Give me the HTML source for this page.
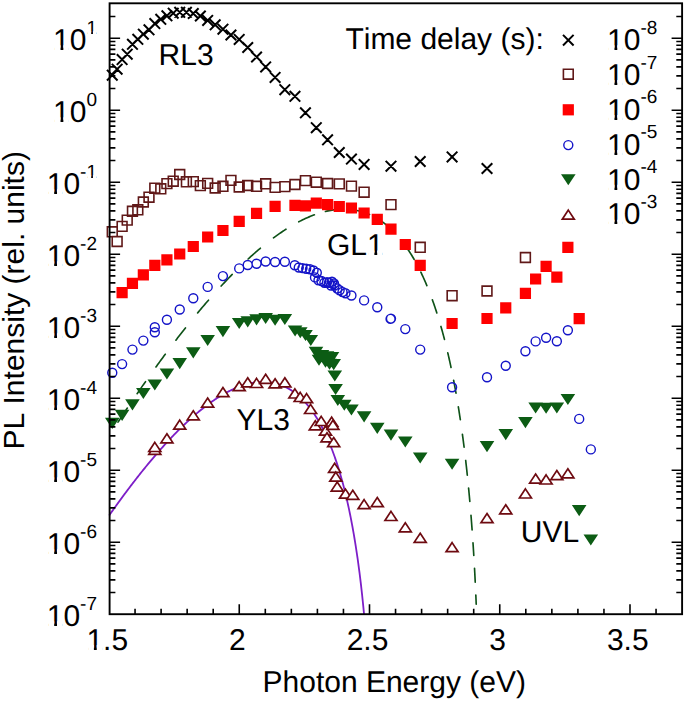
<!DOCTYPE html><html><head><meta charset="utf-8"><style>html,body{margin:0;padding:0;background:#fff;}svg{display:block;}</style></head><body>
<svg width="685" height="702" viewBox="0 0 685 702">
<rect width="685" height="702" fill="#fff"/>
<g><path d="M109.20 515.41 L109.83 514.51 L110.47 513.60 L111.11 512.70 L111.75 511.79 L112.39 510.89 L113.03 509.99 L113.67 509.09 L114.31 508.20 L114.94 507.31 L115.58 506.42 L116.22 505.53 L116.86 504.64 L117.50 503.75 L118.14 502.87 L118.78 501.99 L119.42 501.11 L120.06 500.23 L120.69 499.36 L121.33 498.49 L121.97 497.62 L122.61 496.75 L123.25 495.89 L123.89 495.02 L124.53 494.16 L125.17 493.30 L125.81 492.44 L126.44 491.59 L127.08 490.74 L127.72 489.89 L128.36 489.04 L129.00 488.19 L129.64 487.35 L130.28 486.51 L130.92 485.67 L131.55 484.84 L132.19 484.00 L132.83 483.17 L133.47 482.34 L134.11 481.51 L134.75 480.68 L135.39 479.86 L136.03 479.04 L136.66 478.22 L137.30 477.41 L137.94 476.60 L138.58 475.78 L139.22 474.98 L139.86 474.17 L140.50 473.36 L141.13 472.56 L141.77 471.76 L142.41 470.96 L143.05 470.18 L143.69 469.38 L144.33 468.59 L144.97 467.81 L145.60 467.02 L146.24 466.24 L146.88 465.46 L147.52 464.68 L148.16 463.91 L148.80 463.14 L149.44 462.37 L150.08 461.60 L150.71 460.84 L151.35 460.08 L151.99 459.32 L152.63 458.56 L153.27 457.80 L153.91 457.06 L154.55 456.31 L155.18 455.56 L155.82 454.82 L156.46 454.08 L157.10 453.34 L157.74 452.60 L158.38 451.87 L159.02 451.14 L159.65 450.42 L160.29 449.69 L160.93 448.97 L161.57 448.25 L162.21 447.54 L162.85 446.82 L163.49 446.11 L164.13 445.41 L164.76 444.71 L165.40 444.00 L166.04 443.30 L166.68 442.61 L167.32 441.91 L167.96 441.22 L168.60 440.54 L169.24 439.85 L169.88 439.17 L170.51 438.49 L171.15 437.82 L171.79 437.15 L172.43 436.48 L173.07 435.81 L173.71 435.15 L174.35 434.48 L174.99 433.83 L175.63 433.17 L176.26 432.53 L176.90 431.88 L177.54 431.23 L178.18 430.59 L178.82 429.95 L179.46 429.31 L180.10 428.68 L180.74 428.05 L181.37 427.43 L182.01 426.81 L182.65 426.19 L183.29 425.57 L183.93 424.96 L184.57 424.35 L185.21 423.74 L185.85 423.14 L186.48 422.54 L187.12 421.95 L187.76 421.35 L188.40 420.76 L189.04 420.18 L189.68 419.59 L190.32 419.02 L190.95 418.44 L191.59 417.87 L192.23 417.30 L192.87 416.74 L193.51 416.17 L194.15 415.62 L194.79 415.06 L195.42 414.51 L196.06 413.96 L196.70 413.42 L197.34 412.88 L197.98 412.35 L198.62 411.81 L199.26 411.29 L199.90 410.76 L200.53 410.24 L201.17 409.72 L201.81 409.21 L202.45 408.70 L203.09 408.19 L203.73 407.69 L204.37 407.19 L205.00 406.70 L205.64 406.21 L206.28 405.72 L206.92 405.24 L207.56 404.76 L208.20 404.29 L208.84 403.82 L209.47 403.35 L210.11 402.89 L210.75 402.43 L211.39 401.98 L212.03 401.53 L212.67 401.08 L213.31 400.64 L213.95 400.21 L214.58 399.78 L215.22 399.35 L215.86 398.92 L216.50 398.50 L217.14 398.09 L217.78 397.68 L218.42 397.27 L219.06 396.87 L219.70 396.47 L220.33 396.08 L220.97 395.69 L221.61 395.31 L222.25 394.93 L222.89 394.56 L223.53 394.19 L224.17 393.82 L224.81 393.46 L225.45 393.11 L226.08 392.76 L226.72 392.41 L227.36 392.07 L228.00 391.73 L228.64 391.40 L229.28 391.08 L229.92 390.75 L230.56 390.44 L231.19 390.13 L231.83 389.82 L232.47 389.52 L233.11 389.23 L233.75 388.94 L234.39 388.65 L235.03 388.37 L235.67 388.09 L236.30 387.83 L236.94 387.56 L237.58 387.30 L238.22 387.05 L238.86 386.80 L239.50 386.56 L240.14 386.32 L240.77 386.09 L241.41 385.87 L242.05 385.65 L242.69 385.44 L243.33 385.23 L243.97 385.03 L244.61 384.83 L245.24 384.64 L245.88 384.46 L246.52 384.28 L247.16 384.11 L247.80 383.94 L248.44 383.78 L249.08 383.63 L249.71 383.48 L250.35 383.34 L250.99 383.20 L251.63 383.07 L252.27 382.95 L252.91 382.84 L253.55 382.73 L254.19 382.63 L254.82 382.53 L255.46 382.44 L256.10 382.36 L256.74 382.28 L257.38 382.21 L258.02 382.15 L258.66 382.10 L259.29 382.05 L259.93 382.01 L260.57 381.98 L261.21 381.95 L261.85 381.93 L262.49 381.92 L263.13 381.92 L263.77 381.92 L264.40 381.93 L265.04 381.95 L265.68 381.98 L266.32 382.01 L266.96 382.05 L267.60 382.10 L268.24 382.16 L268.88 382.23 L269.52 382.30 L270.15 382.38 L270.79 382.47 L271.43 382.57 L272.07 382.68 L272.71 382.80 L273.35 382.92 L273.99 383.06 L274.63 383.20 L275.27 383.35 L275.90 383.51 L276.54 383.68 L277.18 383.86 L277.82 384.04 L278.46 384.24 L279.10 384.45 L279.74 384.66 L280.38 384.89 L281.01 385.12 L281.65 385.37 L282.29 385.62 L282.93 385.88 L283.57 386.16 L284.21 386.44 L284.85 386.74 L285.49 387.05 L286.12 387.36 L286.76 387.69 L287.40 388.03 L288.04 388.38 L288.68 388.74 L289.32 389.11 L289.96 389.49 L290.59 389.88 L291.23 390.29 L291.87 390.71 L292.51 391.13 L293.15 391.58 L293.79 392.03 L294.43 392.50 L295.06 392.97 L295.70 393.47 L296.34 393.97 L296.98 394.49 L297.62 395.01 L298.26 395.56 L298.90 396.11 L299.53 396.68 L300.17 397.27 L300.81 397.87 L301.45 398.48 L302.09 399.10 L302.73 399.75 L303.37 400.40 L304.01 401.07 L304.64 401.76 L305.28 402.46 L305.92 403.18 L306.56 403.91 L307.20 404.66 L307.84 405.42 L308.48 406.21 L309.11 407.00 L309.75 407.82 L310.39 408.65 L311.03 409.50 L311.67 410.37 L312.31 411.26 L312.95 412.16 L313.59 413.09 L314.22 414.03 L314.86 414.99 L315.50 415.97 L316.14 416.98 L316.78 418.00 L317.42 419.05 L318.06 420.11 L318.70 421.20 L319.34 422.31 L319.97 423.43 L320.61 424.59 L321.25 425.76 L321.89 426.96 L322.53 428.19 L323.17 429.44 L323.81 430.71 L324.45 432.01 L325.09 433.34 L325.72 434.68 L326.36 436.06 L327.00 437.47 L327.64 438.91 L328.28 440.37 L328.92 441.87 L329.56 443.39 L330.20 444.95 L330.83 446.52 L331.47 448.14 L332.11 449.79 L332.75 451.48 L333.39 453.20 L334.03 454.96 L334.67 456.75 L335.31 458.58 L335.94 460.45 L336.58 462.35 L337.22 464.30 L337.86 466.29 L338.50 468.32 L339.14 470.40 L339.78 472.52 L340.41 474.69 L341.05 476.91 L341.69 479.18 L342.33 481.48 L342.97 483.85 L343.61 486.28 L344.25 488.76 L344.88 491.31 L345.52 493.91 L346.16 496.57 L346.80 499.30 L347.44 502.08 L348.08 504.95 L348.72 507.89 L349.35 510.91 L349.99 514.01 L350.63 517.19 L351.27 520.46 L351.91 523.82 L352.55 527.27 L353.19 530.80 L353.82 534.46 L354.46 538.23 L355.10 542.12 L355.74 546.13 L356.38 550.27 L357.02 554.55 L357.66 558.98 L358.30 563.57 L358.93 568.30 L359.57 573.24 L360.21 578.38 L360.85 583.73 L361.49 589.31 L362.13 595.15 L362.77 601.27 L363.41 607.70 L364.05 614.47" stroke="#7d1ec8" stroke-width="1.8" fill="none"/><path d="M117.99 422.15 L118.77 420.98 L119.55 419.80 L120.32 418.62 L121.10 417.45 L121.87 416.28 L122.65 415.11 L123.43 413.94 L124.20 412.78 L124.98 411.62 L125.75 410.46 L126.53 409.30 L127.30 408.14 L127.34 408.10M137.12 393.69 L137.82 392.68 L138.51 391.67 L139.21 390.67 L139.90 389.66 L140.60 388.65 L141.30 387.65 L141.99 386.65 L142.69 385.65 L143.38 384.66 L144.08 383.66 L144.78 382.67 L145.47 381.68 L145.50 381.63M155.95 366.96 L156.73 365.89 L157.50 364.82 L158.28 363.75 L159.06 362.69 L159.83 361.62 L160.61 360.56 L161.38 359.50 L162.16 358.45 L162.94 357.39 L163.71 356.34 L164.49 355.30 L165.26 354.25 L165.28 354.23M175.90 340.17 L176.69 339.13 L177.49 338.10 L178.28 337.08 L179.08 336.05 L179.87 335.03 L180.67 334.01 L181.46 333.00 L182.25 331.98 L183.05 330.97 L183.84 329.97 L184.64 328.96 L185.43 327.96M197.61 312.97 L198.51 311.88 L199.42 310.80 L200.32 309.72 L201.23 308.65 L202.13 307.58 L203.04 306.51 L203.94 305.45 L204.85 304.39 L205.75 303.33 L206.66 302.28 L207.56 301.24 L208.47 300.20 L208.48 300.18M221.17 286.03 L222.09 285.04 L223.01 284.05 L223.93 283.07 L224.84 282.10 L225.76 281.13 L226.68 280.16 L227.60 279.20 L228.51 278.24 L229.43 277.29 L230.35 276.34 L231.27 275.40 L232.18 274.46 L232.20 274.45M248.14 258.99 L249.16 258.06 L250.17 257.13 L251.19 256.21 L252.20 255.30 L253.22 254.40 L254.24 253.50 L255.25 252.61 L256.27 251.73 L257.29 250.85 L258.30 249.98 L259.32 249.12 L260.33 248.27 L260.38 248.23M273.49 237.88 L274.53 237.11 L275.57 236.36 L276.61 235.61 L277.65 234.87 L278.69 234.13 L279.73 233.41 L280.77 232.70 L281.81 231.99 L282.85 231.29 L283.89 230.61 L284.94 229.93 L285.98 229.26 L285.99 229.25M298.78 221.80 L300.08 221.12 L301.38 220.47 L302.68 219.83 L303.98 219.20 L305.28 218.59 L306.57 218.00 L307.87 217.43 L309.17 216.87 L310.47 216.33 L311.77 215.81 L313.07 215.31 L314.36 214.82M325.46 211.44 L326.78 211.13 L328.10 210.84 L329.42 210.58 L330.73 210.33 L332.05 210.11 L333.37 209.92 L334.69 209.74 L336.00 209.59 L337.32 209.46 L338.64 209.35 L339.96 209.27 L341.27 209.21M354.23 209.99 L355.51 210.21 L356.78 210.46 L358.06 210.74 L359.33 211.04 L360.61 211.37 L361.88 211.73 L363.16 212.11 L364.43 212.53 L365.71 212.98 L366.98 213.46 L368.25 213.97 L369.53 214.51M380.87 220.84 L381.83 221.50 L382.79 222.19 L383.75 222.91 L384.72 223.64 L385.68 224.40 L386.64 225.18 L387.60 225.98 L388.56 226.81 L389.52 227.67 L390.48 228.55 L391.44 229.45 L392.40 230.38 L392.41 230.39M405.33 245.63 L406.07 246.67 L406.80 247.73 L407.54 248.81 L408.28 249.92 L409.02 251.04 L409.76 252.18 L410.50 253.35 L411.24 254.54 L411.98 255.75 L412.72 256.98 L413.46 258.24 L414.19 259.52 L414.20 259.53M420.86 272.20 L421.36 273.23 L421.86 274.28 L422.35 275.35 L422.85 276.42 L423.35 277.51 L423.85 278.62 L424.35 279.74 L424.85 280.87 L425.35 282.02 L425.85 283.18 L426.34 284.35 L426.84 285.54 L426.86 285.59M432.40 299.88 L432.77 300.91 L433.14 301.95 L433.51 302.99 L433.88 304.05 L434.25 305.12 L434.62 306.20 L434.98 307.29 L435.35 308.39 L435.72 309.50 L436.09 310.63 L436.46 311.76 L436.83 312.91M440.93 326.43 L441.22 327.44 L441.51 328.46 L441.80 329.49 L442.09 330.53 L442.38 331.58 L442.67 332.64 L442.96 333.70 L443.25 334.78 L443.54 335.86 L443.83 336.95 L444.12 338.05 L444.41 339.16 L444.45 339.33M447.78 352.85 L448.05 354.01 L448.32 355.18 L448.59 356.36 L448.87 357.55 L449.14 358.75 L449.41 359.96 L449.68 361.18 L449.95 362.42 L450.22 363.66 L450.49 364.92 L450.76 366.18 L451.03 367.46M453.62 380.25 L453.82 381.28 L454.01 382.31 L454.21 383.34 L454.41 384.39 L454.60 385.44 L454.80 386.50 L455.00 387.56 L455.20 388.64 L455.39 389.72 L455.59 390.81 L455.79 391.91 L455.98 393.01 L456.01 393.19M458.33 406.84 L458.50 407.86 L458.66 408.90 L458.83 409.94 L459.00 410.99 L459.16 412.05 L459.33 413.11 L459.49 414.19 L459.66 415.27 L459.83 416.35 L459.99 417.45 L460.16 418.55 L460.33 419.66 L460.34 419.74M462.40 434.23 L462.54 435.27 L462.68 436.32 L462.83 437.38 L462.97 438.45 L463.11 439.52 L463.25 440.61 L463.39 441.69 L463.53 442.79 L463.68 443.90 L463.82 445.01 L463.96 446.13 L464.10 447.26M465.68 460.45 L465.82 461.64 L465.95 462.83 L466.09 464.03 L466.22 465.24 L466.36 466.46 L466.50 467.69 L466.63 468.93 L466.77 470.18 L466.90 471.44 L467.04 472.71 L467.17 473.99 L467.31 475.28M468.59 488.06 L468.69 489.09 L468.79 490.12 L468.89 491.16 L468.98 492.21 L469.08 493.27 L469.18 494.33 L469.28 495.41 L469.38 496.49 L469.48 497.57 L469.57 498.67 L469.67 499.77 L469.77 500.88 L469.82 501.37M470.99 515.37 L471.08 516.53 L471.18 517.70 L471.27 518.87 L471.36 520.06 L471.45 521.26 L471.55 522.46 L471.64 523.68 L471.73 524.90 L471.82 526.14 L471.92 527.39 L472.01 528.65 L472.10 529.92M472.99 542.74 L473.05 543.77 L473.12 544.80 L473.19 545.85 L473.26 546.90 L473.33 547.96 L473.39 549.03 L473.46 550.11 L473.53 551.20 L473.60 552.30 L473.66 553.40 L473.73 554.52 L473.79 555.54M474.53 568.35 L474.58 569.38 L474.64 570.41 L474.69 571.45 L474.75 572.50 L474.80 573.56 L474.86 574.63 L474.91 575.70 L474.97 576.79 L475.02 577.89 L475.08 578.99 L475.14 580.11 L475.19 581.23 L475.23 582.12M475.83 595.11 L475.86 595.82 L475.89 596.53 L475.92 597.25 L475.95 597.98 L475.99 598.71 L476.02 599.44 L476.05 600.18 L476.08 600.93 L476.11 601.68 L476.14 602.43 L476.17 603.19 L476.20 603.96 L476.21 604.11" stroke="#0e5218" stroke-width="1.65" stroke-linecap="round" fill="none"/><path d="M116.51 287.10h11.2v11.2h-11.2zM126.85 277.80h11.2v11.2h-11.2zM137.74 269.30h11.2v11.2h-11.2zM149.21 259.70h11.2v11.2h-11.2zM161.32 254.30h11.2v11.2h-11.2zM174.13 248.40h11.2v11.2h-11.2zM187.68 240.90h11.2v11.2h-11.2zM202.06 231.40h11.2v11.2h-11.2zM217.34 224.90h11.2v11.2h-11.2zM233.60 215.70h11.2v11.2h-11.2zM250.95 207.80h11.2v11.2h-11.2zM269.49 200.80h11.2v11.2h-11.2zM289.36 199.80h11.2v11.2h-11.2zM299.83 200.20h11.2v11.2h-11.2zM310.70 197.50h11.2v11.2h-11.2zM321.97 199.10h11.2v11.2h-11.2zM333.68 200.90h11.2v11.2h-11.2zM345.84 202.40h11.2v11.2h-11.2zM358.50 207.40h11.2v11.2h-11.2zM371.67 213.70h11.2v11.2h-11.2zM385.38 223.50h11.2v11.2h-11.2zM399.69 238.90h11.2v11.2h-11.2zM414.61 259.70h11.2v11.2h-11.2zM446.49 317.90h11.2v11.2h-11.2zM481.41 312.90h11.2v11.2h-11.2zM500.15 302.20h11.2v11.2h-11.2zM519.82 287.70h11.2v11.2h-11.2zM530.03 273.40h11.2v11.2h-11.2zM540.50 260.70h11.2v11.2h-11.2zM551.25 271.60h11.2v11.2h-11.2zM562.27 241.70h11.2v11.2h-11.2zM573.59 313.10h11.2v11.2h-11.2z" fill="#ff0000"/><path d="M107.37 226.90h9.8v9.8h-9.8zM112.23 236.60h9.8v9.8h-9.8zM117.21 221.50h9.8v9.8h-9.8zM122.32 215.20h9.8v9.8h-9.8zM127.55 206.40h9.8v9.8h-9.8zM132.92 204.90h9.8v9.8h-9.8zM138.44 197.10h9.8v9.8h-9.8zM144.10 192.30h9.8v9.8h-9.8zM149.91 183.30h9.8v9.8h-9.8zM155.88 183.90h9.8v9.8h-9.8zM162.02 178.70h9.8v9.8h-9.8zM168.33 176.30h9.8v9.8h-9.8zM174.83 169.60h9.8v9.8h-9.8zM181.51 176.90h9.8v9.8h-9.8zM188.38 176.70h9.8v9.8h-9.8zM195.46 180.70h9.8v9.8h-9.8zM202.76 178.50h9.8v9.8h-9.8zM210.28 183.10h9.8v9.8h-9.8zM218.04 181.40h9.8v9.8h-9.8zM226.04 175.50h9.8v9.8h-9.8zM234.30 182.10h9.8v9.8h-9.8zM242.83 180.60h9.8v9.8h-9.8zM251.65 181.40h9.8v9.8h-9.8zM260.76 178.90h9.8v9.8h-9.8zM270.19 182.50h9.8v9.8h-9.8zM279.95 181.70h9.8v9.8h-9.8zM290.06 179.60h9.8v9.8h-9.8zM300.53 175.70h9.8v9.8h-9.8zM311.40 177.30h9.8v9.8h-9.8zM322.67 178.60h9.8v9.8h-9.8zM334.38 179.00h9.8v9.8h-9.8zM346.54 181.20h9.8v9.8h-9.8zM359.20 187.30h9.8v9.8h-9.8zM386.08 199.70h9.8v9.8h-9.8zM415.31 242.40h9.8v9.8h-9.8zM447.19 290.80h9.8v9.8h-9.8zM482.11 286.10h9.8v9.8h-9.8zM520.52 252.60h9.8v9.8h-9.8z" stroke="#601818" stroke-width="1.6" fill="none"/><path d="M107.77 372.70a4.5 4.5 0 1 0 9.0 0a4.5 4.5 0 1 0 -9.0 0zM117.61 364.10a4.5 4.5 0 1 0 9.0 0a4.5 4.5 0 1 0 -9.0 0zM127.95 349.60a4.5 4.5 0 1 0 9.0 0a4.5 4.5 0 1 0 -9.0 0zM138.84 340.60a4.5 4.5 0 1 0 9.0 0a4.5 4.5 0 1 0 -9.0 0zM150.31 327.20a4.5 4.5 0 1 0 9.0 0a4.5 4.5 0 1 0 -9.0 0zM150.31 332.30a4.5 4.5 0 1 0 9.0 0a4.5 4.5 0 1 0 -9.0 0zM162.42 319.70a4.5 4.5 0 1 0 9.0 0a4.5 4.5 0 1 0 -9.0 0zM175.23 309.50a4.5 4.5 0 1 0 9.0 0a4.5 4.5 0 1 0 -9.0 0zM188.78 298.30a4.5 4.5 0 1 0 9.0 0a4.5 4.5 0 1 0 -9.0 0zM203.16 286.90a4.5 4.5 0 1 0 9.0 0a4.5 4.5 0 1 0 -9.0 0zM218.44 276.10a4.5 4.5 0 1 0 9.0 0a4.5 4.5 0 1 0 -9.0 0zM234.70 268.40a4.5 4.5 0 1 0 9.0 0a4.5 4.5 0 1 0 -9.0 0zM243.23 265.00a4.5 4.5 0 1 0 9.0 0a4.5 4.5 0 1 0 -9.0 0zM252.05 263.70a4.5 4.5 0 1 0 9.0 0a4.5 4.5 0 1 0 -9.0 0zM261.16 261.50a4.5 4.5 0 1 0 9.0 0a4.5 4.5 0 1 0 -9.0 0zM270.59 262.00a4.5 4.5 0 1 0 9.0 0a4.5 4.5 0 1 0 -9.0 0zM280.35 261.80a4.5 4.5 0 1 0 9.0 0a4.5 4.5 0 1 0 -9.0 0zM290.30 265.30a4.5 4.5 0 1 0 9.0 0a4.5 4.5 0 1 0 -9.0 0zM294.30 267.50a4.5 4.5 0 1 0 9.0 0a4.5 4.5 0 1 0 -9.0 0zM298.00 268.10a4.5 4.5 0 1 0 9.0 0a4.5 4.5 0 1 0 -9.0 0zM301.70 268.70a4.5 4.5 0 1 0 9.0 0a4.5 4.5 0 1 0 -9.0 0zM305.50 269.30a4.5 4.5 0 1 0 9.0 0a4.5 4.5 0 1 0 -9.0 0zM309.00 270.50a4.5 4.5 0 1 0 9.0 0a4.5 4.5 0 1 0 -9.0 0zM312.30 272.80a4.5 4.5 0 1 0 9.0 0a4.5 4.5 0 1 0 -9.0 0zM310.50 277.40a4.5 4.5 0 1 0 9.0 0a4.5 4.5 0 1 0 -9.0 0zM314.00 280.30a4.5 4.5 0 1 0 9.0 0a4.5 4.5 0 1 0 -9.0 0zM317.00 281.00a4.5 4.5 0 1 0 9.0 0a4.5 4.5 0 1 0 -9.0 0zM319.90 282.70a4.5 4.5 0 1 0 9.0 0a4.5 4.5 0 1 0 -9.0 0zM322.50 282.30a4.5 4.5 0 1 0 9.0 0a4.5 4.5 0 1 0 -9.0 0zM324.50 282.70a4.5 4.5 0 1 0 9.0 0a4.5 4.5 0 1 0 -9.0 0zM327.50 281.80a4.5 4.5 0 1 0 9.0 0a4.5 4.5 0 1 0 -9.0 0zM326.50 285.50a4.5 4.5 0 1 0 9.0 0a4.5 4.5 0 1 0 -9.0 0zM329.50 283.50a4.5 4.5 0 1 0 9.0 0a4.5 4.5 0 1 0 -9.0 0zM330.00 285.50a4.5 4.5 0 1 0 9.0 0a4.5 4.5 0 1 0 -9.0 0zM332.70 288.50a4.5 4.5 0 1 0 9.0 0a4.5 4.5 0 1 0 -9.0 0zM335.10 290.30a4.5 4.5 0 1 0 9.0 0a4.5 4.5 0 1 0 -9.0 0zM338.00 292.00a4.5 4.5 0 1 0 9.0 0a4.5 4.5 0 1 0 -9.0 0zM340.90 293.20a4.5 4.5 0 1 0 9.0 0a4.5 4.5 0 1 0 -9.0 0zM346.94 295.50a4.5 4.5 0 1 0 9.0 0a4.5 4.5 0 1 0 -9.0 0zM359.60 300.40a4.5 4.5 0 1 0 9.0 0a4.5 4.5 0 1 0 -9.0 0zM372.77 307.20a4.5 4.5 0 1 0 9.0 0a4.5 4.5 0 1 0 -9.0 0zM386.48 318.60a4.5 4.5 0 1 0 9.0 0a4.5 4.5 0 1 0 -9.0 0zM386.06 318.90a4.5 4.5 0 1 0 9.0 0a4.5 4.5 0 1 0 -9.0 0zM400.79 329.10a4.5 4.5 0 1 0 9.0 0a4.5 4.5 0 1 0 -9.0 0zM415.71 349.60a4.5 4.5 0 1 0 9.0 0a4.5 4.5 0 1 0 -9.0 0zM447.59 387.20a4.5 4.5 0 1 0 9.0 0a4.5 4.5 0 1 0 -9.0 0zM482.51 377.30a4.5 4.5 0 1 0 9.0 0a4.5 4.5 0 1 0 -9.0 0zM501.25 365.70a4.5 4.5 0 1 0 9.0 0a4.5 4.5 0 1 0 -9.0 0zM520.92 351.30a4.5 4.5 0 1 0 9.0 0a4.5 4.5 0 1 0 -9.0 0zM531.13 341.40a4.5 4.5 0 1 0 9.0 0a4.5 4.5 0 1 0 -9.0 0zM541.60 337.70a4.5 4.5 0 1 0 9.0 0a4.5 4.5 0 1 0 -9.0 0zM552.35 341.20a4.5 4.5 0 1 0 9.0 0a4.5 4.5 0 1 0 -9.0 0zM563.37 330.20a4.5 4.5 0 1 0 9.0 0a4.5 4.5 0 1 0 -9.0 0zM574.69 418.90a4.5 4.5 0 1 0 9.0 0a4.5 4.5 0 1 0 -9.0 0zM586.32 449.40a4.5 4.5 0 1 0 9.0 0a4.5 4.5 0 1 0 -9.0 0z" stroke="#1414c8" stroke-width="1.4" fill="none"/><path d="M104.97 417.80L119.57 417.80L112.27 428.90zM114.81 409.80L129.41 409.80L122.11 420.90zM125.15 399.30L139.75 399.30L132.45 410.40zM136.04 388.00L150.64 388.00L143.34 399.10zM147.51 379.50L162.11 379.50L154.81 390.60zM159.62 368.50L174.22 368.50L166.92 379.60zM172.43 358.10L187.03 358.10L179.73 369.20zM185.98 347.30L200.58 347.30L193.28 358.40zM200.36 335.00L214.96 335.00L207.66 346.10zM215.64 326.10L230.24 326.10L222.94 337.20zM231.90 317.90L246.50 317.90L239.20 329.00zM240.43 316.30L255.03 316.30L247.73 327.40zM249.25 314.30L263.85 314.30L256.55 325.40zM258.36 312.90L272.96 312.90L265.66 324.00zM267.79 314.70L282.39 314.70L275.09 325.80zM277.55 313.90L292.15 313.90L284.85 325.00zM287.80 325.40L302.40 325.40L295.10 336.50zM293.00 327.20L307.60 327.20L300.30 338.30zM298.20 330.00L312.80 330.00L305.50 341.10zM303.50 334.90L318.10 334.90L310.80 346.00zM308.70 346.80L323.30 346.80L316.00 357.90zM311.70 354.70L326.30 354.70L319.00 365.80zM314.70 350.00L329.30 350.00L322.00 361.10zM318.20 356.70L332.80 356.70L325.50 367.80zM319.70 351.20L334.30 351.20L327.00 362.30zM322.20 358.70L336.80 358.70L329.50 369.80zM324.70 352.10L339.30 352.10L332.00 363.20zM326.40 359.10L341.00 359.10L333.70 370.20zM327.50 370.50L342.10 370.50L334.80 381.60zM328.30 384.00L342.90 384.00L335.60 395.10zM330.50 394.90L345.10 394.90L337.80 406.00zM337.00 399.70L351.60 399.70L344.30 410.80zM344.14 404.50L358.74 404.50L351.44 415.60zM356.80 411.30L371.40 411.30L364.10 422.40zM369.97 422.80L384.57 422.80L377.27 433.90zM383.68 429.60L398.28 429.60L390.98 440.70zM397.99 436.40L412.59 436.40L405.29 447.50zM412.91 452.50L427.51 452.50L420.21 463.60zM444.79 458.70L459.39 458.70L452.09 469.80zM479.71 441.10L494.31 441.10L487.01 452.20zM498.45 429.10L513.05 429.10L505.75 440.20zM518.12 417.10L532.72 417.10L525.42 428.20zM528.33 402.50L542.93 402.50L535.63 413.60zM538.80 402.70L553.40 402.70L546.10 413.80zM549.55 402.50L564.15 402.50L556.85 413.60zM560.57 393.90L575.17 393.90L567.87 405.00zM571.89 505.10L586.49 505.10L579.19 516.20zM583.52 534.40L598.12 534.40L590.82 545.50z" fill="#0c5c14"/><g fill="#fff" stroke="#6e0a10" stroke-width="1.7"><path d="M154.81 445.30L160.81 454.40L148.81 454.40z"/><path d="M154.81 442.40L160.81 451.50L148.81 451.50z"/><path d="M166.92 433.80L172.92 442.90L160.92 442.90z"/><path d="M179.73 420.10L185.73 429.20L173.73 429.20z"/><path d="M193.28 410.70L199.28 419.80L187.28 419.80z"/><path d="M207.66 398.00L213.66 407.10L201.66 407.10z"/><path d="M222.94 387.50L228.94 396.60L216.94 396.60z"/><path d="M239.20 381.60L245.20 390.70L233.20 390.70z"/><path d="M247.73 377.70L253.73 386.80L241.73 386.80z"/><path d="M256.55 378.40L262.55 387.50L250.55 387.50z"/><path d="M265.66 374.20L271.66 383.30L259.66 383.30z"/><path d="M275.09 378.80L281.09 387.90L269.09 387.90z"/><path d="M284.85 377.70L290.85 386.80L278.85 386.80z"/><path d="M294.90 388.90L300.90 398.00L288.90 398.00z"/><path d="M300.20 392.40L306.20 401.50L294.20 401.50z"/><path d="M306.60 393.60L312.60 402.70L300.60 402.70z"/><path d="M310.60 404.40L316.60 413.50L304.60 413.50z"/><path d="M315.30 420.80L321.30 429.90L309.30 429.90z"/><path d="M321.20 416.40L327.20 425.50L315.20 425.50z"/><path d="M325.50 426.10L331.50 435.20L319.50 435.20z"/><path d="M331.70 417.10L337.70 426.20L325.70 426.20z"/><path d="M332.90 420.30L338.90 429.40L326.90 429.40z"/><path d="M327.00 432.80L333.00 441.90L321.00 441.90z"/><path d="M333.70 437.50L339.70 446.60L327.70 446.60z"/><path d="M334.60 463.30L340.60 472.40L328.60 472.40z"/><path d="M335.80 472.10L341.80 481.20L329.80 481.20z"/><path d="M337.20 482.00L343.20 491.10L331.20 491.10z"/><path d="M345.50 489.10L351.50 498.20L339.50 498.20z"/><path d="M352.80 490.20L358.80 499.30L346.80 499.30z"/><path d="M364.10 499.60L370.10 508.70L358.10 508.70z"/><path d="M377.27 497.50L383.27 506.60L371.27 506.60z"/><path d="M390.98 511.40L396.98 520.50L384.98 520.50z"/><path d="M405.29 522.80L411.29 531.90L399.29 531.90z"/><path d="M420.21 533.30L426.21 542.40L414.21 542.40z"/><path d="M452.09 542.60L458.09 551.70L446.09 551.70z"/><path d="M487.01 513.50L493.01 522.60L481.01 522.60z"/><path d="M505.75 504.70L511.75 513.80L499.75 513.80z"/><path d="M525.42 488.90L531.42 498.00L519.42 498.00z"/><path d="M535.63 474.00L541.63 483.10L529.63 483.10z"/><path d="M546.10 474.90L552.10 484.00L540.10 484.00z"/><path d="M556.85 470.50L562.85 479.60L550.85 479.60z"/><path d="M567.87 468.80L573.87 477.90L561.87 477.90z"/></g><path d="M106.97 69.90L117.57 80.50M106.97 80.50L117.57 69.90M111.83 63.90L122.43 74.50M111.83 74.50L122.43 63.90M116.81 54.30L127.41 64.90M116.81 64.90L127.41 54.30M121.92 48.90L132.52 59.50M121.92 59.50L132.52 48.90M127.15 39.00L137.75 49.60M127.15 49.60L137.75 39.00M132.52 34.00L143.12 44.60M132.52 44.60L143.12 34.00M138.04 28.90L148.64 39.50M138.04 39.50L148.64 28.90M143.70 24.50L154.30 35.10M143.70 35.10L154.30 24.50M149.51 18.30L160.11 28.90M149.51 28.90L160.11 18.30M155.48 14.00L166.08 24.60M155.48 24.60L166.08 14.00M161.62 10.50L172.22 21.10M161.62 21.10L172.22 10.50M167.93 7.90L178.53 18.50M167.93 18.50L178.53 7.90M174.43 7.00L185.03 17.60M174.43 17.60L185.03 7.00M181.11 7.00L191.71 17.60M181.11 17.60L191.71 7.00M187.98 8.20L198.58 18.80M187.98 18.80L198.58 8.20M195.06 10.70L205.66 21.30M195.06 21.30L205.66 10.70M202.36 15.10L212.96 25.70M202.36 25.70L212.96 15.10M209.88 19.50L220.48 30.10M209.88 30.10L220.48 19.50M217.64 23.90L228.24 34.50M217.64 34.50L228.24 23.90M225.64 29.70L236.24 40.30M225.64 40.30L236.24 29.70M233.90 34.10L244.50 44.70M233.90 44.70L244.50 34.10M242.43 42.20L253.03 52.80M242.43 52.80L253.03 42.20M251.25 51.70L261.85 62.30M251.25 62.30L261.85 51.70M260.36 61.60L270.96 72.20M260.36 72.20L270.96 61.60M269.79 72.10L280.39 82.70M269.79 82.70L280.39 72.10M279.55 84.40L290.15 95.00M279.55 95.00L290.15 84.40M289.66 91.00L300.26 101.60M289.66 101.60L300.26 91.00M300.13 107.50L310.73 118.10M300.13 118.10L310.73 107.50M311.00 122.40L321.60 133.00M311.00 133.00L321.60 122.40M322.27 134.50L332.87 145.10M322.27 145.10L332.87 134.50M333.98 147.20L344.58 157.80M333.98 157.80L344.58 147.20M346.14 153.80L356.74 164.40M346.14 164.40L356.74 153.80M358.80 159.10L369.40 169.70M358.80 169.70L369.40 159.10M385.68 160.90L396.28 171.50M385.68 171.50L396.28 160.90M414.91 156.20L425.51 166.80M414.91 166.80L425.51 156.20M446.79 151.60L457.39 162.20M446.79 162.20L457.39 151.60M481.71 163.20L492.31 173.80M481.71 173.80L492.31 163.20" stroke="#000" stroke-width="2.0" fill="none"/><path d="M563.00 34.90L573.60 45.50M563.00 45.50L573.60 34.90" stroke="#000" stroke-width="2.0" fill="none"/><path d="M563.40 69.30h9.8v9.8h-9.8z" stroke="#601818" stroke-width="1.6" fill="none"/><path d="M562.70 104.20h11.2v11.2h-11.2z" fill="#ff0000"/><path d="M563.80 145.10a4.5 4.5 0 1 0 9.0 0a4.5 4.5 0 1 0 -9.0 0z" stroke="#1414c8" stroke-width="1.4" fill="none"/><path d="M561.00 174.20L575.60 174.20L568.30 185.30z" fill="#0c5c14"/><path d="M568.30 210.10L574.30 219.20L562.30 219.20z" stroke="#6e0a10" stroke-width="1.7" fill="none"/></g>
<path d="M109.60 592.53h5.8M682.10 592.53h-5.8M109.60 579.85h5.8M682.10 579.85h-5.8M109.60 570.85h5.8M682.10 570.85h-5.8M109.60 563.87h5.8M682.10 563.87h-5.8M109.60 558.17h5.8M682.10 558.17h-5.8M109.60 553.35h5.8M682.10 553.35h-5.8M109.60 549.18h5.8M682.10 549.18h-5.8M109.60 545.49h5.8M682.10 545.49h-5.8M109.60 542.20h10.5M682.10 542.20h-10.5M109.60 520.53h5.8M682.10 520.53h-5.8M109.60 507.85h5.8M682.10 507.85h-5.8M109.60 498.85h5.8M682.10 498.85h-5.8M109.60 491.87h5.8M682.10 491.87h-5.8M109.60 486.17h5.8M682.10 486.17h-5.8M109.60 481.35h5.8M682.10 481.35h-5.8M109.60 477.18h5.8M682.10 477.18h-5.8M109.60 473.49h5.8M682.10 473.49h-5.8M109.60 470.20h10.5M682.10 470.20h-10.5M109.60 448.53h5.8M682.10 448.53h-5.8M109.60 435.85h5.8M682.10 435.85h-5.8M109.60 426.85h5.8M682.10 426.85h-5.8M109.60 419.87h5.8M682.10 419.87h-5.8M109.60 414.17h5.8M682.10 414.17h-5.8M109.60 409.35h5.8M682.10 409.35h-5.8M109.60 405.18h5.8M682.10 405.18h-5.8M109.60 401.49h5.8M682.10 401.49h-5.8M109.60 398.20h10.5M682.10 398.20h-10.5M109.60 376.53h5.8M682.10 376.53h-5.8M109.60 363.85h5.8M682.10 363.85h-5.8M109.60 354.85h5.8M682.10 354.85h-5.8M109.60 347.87h5.8M682.10 347.87h-5.8M109.60 342.17h5.8M682.10 342.17h-5.8M109.60 337.35h5.8M682.10 337.35h-5.8M109.60 333.18h5.8M682.10 333.18h-5.8M109.60 329.49h5.8M682.10 329.49h-5.8M109.60 326.20h10.5M682.10 326.20h-10.5M109.60 304.53h5.8M682.10 304.53h-5.8M109.60 291.85h5.8M682.10 291.85h-5.8M109.60 282.85h5.8M682.10 282.85h-5.8M109.60 275.87h5.8M682.10 275.87h-5.8M109.60 270.17h5.8M682.10 270.17h-5.8M109.60 265.35h5.8M682.10 265.35h-5.8M109.60 261.18h5.8M682.10 261.18h-5.8M109.60 257.49h5.8M682.10 257.49h-5.8M109.60 254.20h10.5M682.10 254.20h-10.5M109.60 232.53h5.8M682.10 232.53h-5.8M109.60 219.85h5.8M682.10 219.85h-5.8M109.60 210.85h5.8M682.10 210.85h-5.8M109.60 203.87h5.8M682.10 203.87h-5.8M109.60 198.17h5.8M682.10 198.17h-5.8M109.60 193.35h5.8M682.10 193.35h-5.8M109.60 189.18h5.8M682.10 189.18h-5.8M109.60 185.49h5.8M682.10 185.49h-5.8M109.60 182.20h10.5M682.10 182.20h-10.5M109.60 160.53h5.8M682.10 160.53h-5.8M109.60 147.85h5.8M682.10 147.85h-5.8M109.60 138.85h5.8M682.10 138.85h-5.8M109.60 131.87h5.8M682.10 131.87h-5.8M109.60 126.17h5.8M682.10 126.17h-5.8M109.60 121.35h5.8M682.10 121.35h-5.8M109.60 117.18h5.8M682.10 117.18h-5.8M109.60 113.49h5.8M682.10 113.49h-5.8M109.60 110.20h10.5M682.10 110.20h-10.5M109.60 88.53h5.8M682.10 88.53h-5.8M109.60 75.85h5.8M682.10 75.85h-5.8M109.60 66.85h5.8M682.10 66.85h-5.8M109.60 59.87h5.8M682.10 59.87h-5.8M109.60 54.17h5.8M682.10 54.17h-5.8M109.60 49.35h5.8M682.10 49.35h-5.8M109.60 45.18h5.8M682.10 45.18h-5.8M109.60 41.49h5.8M682.10 41.49h-5.8M109.60 38.20h10.5M682.10 38.20h-10.5M109.60 16.53h5.8M682.10 16.53h-5.8M135.05 614.20v-5.5M161.10 614.20v-5.5M187.15 614.20v-5.5M213.20 614.20v-5.5M239.25 614.20v-10M265.30 614.20v-5.5M291.35 614.20v-5.5M317.40 614.20v-5.5M343.45 614.20v-5.5M369.50 614.20v-10M395.55 614.20v-5.5M421.60 614.20v-5.5M447.65 614.20v-5.5M473.70 614.20v-5.5M499.75 614.20v-10M525.80 614.20v-5.5M551.85 614.20v-5.5M577.90 614.20v-5.5M603.95 614.20v-5.5M630.00 614.20v-10M656.05 614.20v-5.5" stroke="#000" stroke-width="1.6" fill="none"/>
<rect x="109.6" y="3.3" width="572.50" height="610.90" stroke="#000" stroke-width="1.9" fill="none"/>
<g font-family="Liberation Sans, sans-serif" fill="#000" style="font-kerning:none;text-rendering:geometricPrecision"><text x="46.74" y="626.00"><tspan font-size="30">10</tspan><tspan font-size="19" dy="-15.7">-7</tspan></text><text x="46.74" y="554.00"><tspan font-size="30">10</tspan><tspan font-size="19" dy="-15.7">-6</tspan></text><text x="46.74" y="482.00"><tspan font-size="30">10</tspan><tspan font-size="19" dy="-15.7">-5</tspan></text><text x="46.74" y="410.00"><tspan font-size="30">10</tspan><tspan font-size="19" dy="-15.7">-4</tspan></text><text x="46.74" y="338.00"><tspan font-size="30">10</tspan><tspan font-size="19" dy="-15.7">-3</tspan></text><text x="46.74" y="266.00"><tspan font-size="30">10</tspan><tspan font-size="19" dy="-15.7">-2</tspan></text><text x="46.74" y="194.00"><tspan font-size="30">10</tspan><tspan font-size="19" dy="-15.7">-1</tspan></text><text x="53.06" y="122.00"><tspan font-size="30">10</tspan><tspan font-size="19" dy="-15.7">0</tspan></text><text x="53.06" y="50.00"><tspan font-size="30">10</tspan><tspan font-size="19" dy="-15.7">1</tspan></text><text x="86.45" y="649.80"><tspan font-size="30">1.5</tspan></text><text x="229.07" y="649.80"><tspan font-size="30">2</tspan></text><text x="346.68" y="649.80"><tspan font-size="30">2.5</tspan></text><text x="489.30" y="649.80"><tspan font-size="30">3</tspan></text><text x="606.90" y="649.80"><tspan font-size="30">3.5</tspan></text><text x="262.50" y="692.00"><tspan font-size="30">Photon Energy (eV)</tspan></text><text x="158.60" y="64.80"><tspan font-size="30">RL3</tspan></text><text x="326.90" y="255.20"><tspan font-size="30">GL1</tspan></text><text x="236.60" y="429.80"><tspan font-size="30">YL3</tspan></text><text x="520.80" y="542.20"><tspan font-size="30">UVL</tspan></text><text x="345.40" y="48.60"><tspan font-size="30">Time delay (s):</tspan></text><text x="607.00" y="49.90"><tspan font-size="30">10</tspan><tspan font-size="19" dy="-16.3">-8</tspan></text><text x="607.00" y="84.80"><tspan font-size="30">10</tspan><tspan font-size="19" dy="-16.3">-7</tspan></text><text x="607.00" y="119.70"><tspan font-size="30">10</tspan><tspan font-size="19" dy="-16.3">-6</tspan></text><text x="607.00" y="154.60"><tspan font-size="30">10</tspan><tspan font-size="19" dy="-16.3">-5</tspan></text><text x="607.00" y="189.50"><tspan font-size="30">10</tspan><tspan font-size="19" dy="-16.3">-4</tspan></text><text x="607.00" y="224.40"><tspan font-size="30">10</tspan><tspan font-size="19" dy="-16.3">-3</tspan></text></g>
<path d="M48.42 621.31H54.19V627.60H48.42ZM57.02 621.31H62.56V627.60H57.02ZM48.42 549.31H54.19V555.60H48.42ZM57.02 549.31H62.56V555.60H57.02ZM48.42 477.31H54.19V483.60H48.42ZM57.02 477.31H62.56V483.60H57.02ZM48.42 405.31H54.19V411.60H48.42ZM57.02 405.31H62.56V411.60H57.02ZM48.42 333.31H54.19V339.60H48.42ZM57.02 333.31H62.56V339.60H57.02ZM48.42 261.31H54.19V267.60H48.42ZM57.02 261.31H62.56V267.60H57.02ZM48.42 189.31H54.19V195.60H48.42ZM57.02 189.31H62.56V195.60H57.02ZM87.50 175.33H91.16V179.90H87.50ZM92.95 175.33H96.45V179.90H92.95ZM54.75 117.31H60.52V123.60H54.75ZM63.35 117.31H68.88V123.60H63.35ZM54.75 45.31H60.52V51.60H54.75ZM63.35 45.31H68.88V51.60H63.35ZM87.50 31.33H91.16V35.90H87.50ZM92.95 31.33H96.45V35.90H92.95ZM88.13 645.11H93.90V651.40H88.13ZM96.73 645.11H102.27V651.40H96.73ZM368.60 250.51H374.38V256.80H368.60ZM377.20 250.51H382.74V256.80H377.20ZM608.68 45.21H614.46V51.50H608.68ZM617.28 45.21H622.82V51.50H617.28ZM608.68 80.11H614.46V86.40H608.68ZM617.28 80.11H622.82V86.40H617.28ZM608.68 115.01H614.46V121.30H608.68ZM617.28 115.01H622.82V121.30H617.28ZM608.68 149.91H614.46V156.20H608.68ZM617.28 149.91H622.82V156.20H617.28ZM608.68 184.81H614.46V191.10H608.68ZM617.28 184.81H622.82V191.10H617.28ZM608.68 219.71H614.46V226.00H608.68ZM617.28 219.71H622.82V226.00H617.28Z" fill="#fff"/>
<text transform="translate(23.5 449.5) rotate(-90)" font-family="Liberation Sans, sans-serif" font-size="30" fill="#000" style="font-kerning:none">PL Intensity (rel. units)</text>
</svg></body></html>
